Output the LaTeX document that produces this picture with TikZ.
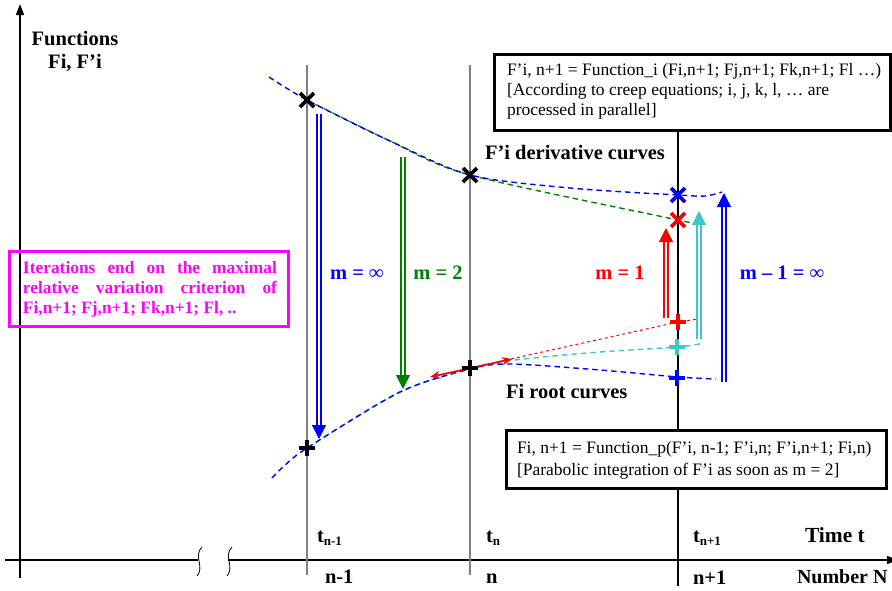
\documentclass[tikz,border=0pt]{standalone}
\usepackage{fontspec}
\setmainfont{Liberation Serif}
\usetikzlibrary{arrows.meta}
\definecolor{myblue}{RGB}{0,0,255}
\definecolor{mygreen}{RGB}{0,128,0}
\definecolor{myred}{RGB}{255,0,0}
\definecolor{mycyan}{RGB}{60,200,200}
\definecolor{mymag}{RGB}{255,0,255}
\begin{document}
\begin{tikzpicture}[x=1pt,y=-1pt,
  every node/.style={inner sep=0pt, outer sep=0pt},
  gridline/.style={black!50, line width=1.1pt},
  axisline/.style={black, line width=1.6pt},
  curve/.style={dash pattern=on 5.5pt off 4pt, line width=1.4pt},
  finecurve/.style={dash pattern=on 3pt off 3pt, line width=1pt},
  mk/.style={minimum size=14pt, shape=rectangle},
  mkline/.style={line width=3.6pt},
  dbl/.style={double, double distance=2.8pt, line width=1.3pt, -{Triangle[length=14pt,width=14pt]}},
  lbl/.style={font=\bfseries\fontsize{20.5}{24}\selectfont, anchor=base},
  boxtext/.style={font=\fontsize{17.5}{20}\selectfont, anchor=base west},
  magtext/.style={font=\bfseries\fontsize{17.4}{20}\selectfont, anchor=base west, mymag},
]
\useasboundingbox (0,0) rectangle (892,590);

% axes
\coordinate (yb) at (20,578);
\coordinate (yt) at (20,4);
\draw[axisline, -{Triangle[length=11pt,width=8pt]}] (yb) -- (yt);
\coordinate (xl) at (5,560);
\coordinate (xbreakA) at (198,560);
\coordinate (xbreakB) at (228,560);
\coordinate (xr) at (898,560);
\draw[axisline] (xl) -- (xbreakA);
\draw[axisline, -{Triangle[length=11pt,width=8pt]}] (xbreakB) -- (xr);
\draw[line width=0.8pt] (202,547) .. controls (193,556) and (205,567) .. (197,576);
\draw[line width=0.8pt] (232,547) .. controls (223,556) and (235,567) .. (227,576);

% vertical time lines
\draw[gridline] (307,65) -- (307,575);
\draw[gridline] (470,65) -- (470,575);
\draw[black, line width=1.1pt] (678,110) -- (678,586);

% derivative curves
\draw[curve, mygreen] plot[smooth] coordinates {(307,100) (390,141) (470,175) (678,220) (697,224)};
\draw[curve, myblue] plot[smooth] coordinates {(269,77) (307,100) (390,141) (470,175) (570,188) (678,195) (705,196) (722,192)};

% root curves
\draw[curve, mycyan] plot[smooth] coordinates {(307,448) (400,392) (470,369) (515,360) (600,352) (678,347) (704,343)};
\draw[finecurve, myred] (470,368) -- (678,322) -- (698,319);
\draw[curve, myblue] plot[smooth] coordinates {(272,478) (283,467) (307,448) (400,392) (470,369) (510,364) (600,370) (678,377) (716,379)};

% tangent arrow
\coordinate (ta) at (430,377);
\coordinate (tb) at (512,359);
\draw[myred, line width=1.7pt, {Stealth[length=10pt,width=8pt]}-{Stealth[length=10pt,width=8pt]}] (ta) -- (tb);

% markers (x = cross, p = plus)
\node[mk] (x1) at (307,100) {};
\node[mk] (x2) at (470,175) {};
\node[mk] (x3) at (678,195) {};
\node[mk] (x4) at (678,220) {};
\node[mk, minimum size=16pt] (p1) at (307,448) {};
\node[mk, minimum size=16pt] (p2) at (470,368) {};
\node[mk, minimum size=16pt] (p3) at (678,322) {};
\node[mk, minimum size=16pt] (p4) at (677,347) {};
\node[mk, minimum size=16pt] (p5) at (677,378) {};
\draw[mkline] (x1.north west) -- (x1.south east) (x1.north east) -- (x1.south west);
\draw[mkline] (x2.north west) -- (x2.south east) (x2.north east) -- (x2.south west);
\draw[mkline, myblue] (x3.north west) -- (x3.south east) (x3.north east) -- (x3.south west);
\draw[mkline, myred] (x4.north west) -- (x4.south east) (x4.north east) -- (x4.south west);
\draw[mkline] (p1.north) -- (p1.south) (p1.west) -- (p1.east);
\draw[mkline] (p2.north) -- (p2.south) (p2.west) -- (p2.east);
\draw[mkline, myred] (p3.north) -- (p3.south) (p3.west) -- (p3.east);
\draw[mkline, mycyan] (p4.north) -- (p4.south) (p4.west) -- (p4.east);
\draw[mkline, myblue] (p5.north) -- (p5.south) (p5.west) -- (p5.east);

% double arrows
\coordinate (a1s) at (319,114); \coordinate (a1e) at (319,439);
\coordinate (a2s) at (403,157); \coordinate (a2e) at (403,389);
\coordinate (a3s) at (666,318); \coordinate (a3e) at (666,228);
\coordinate (a4s) at (699,339); \coordinate (a4e) at (699,211);
\coordinate (a5s) at (724,382); \coordinate (a5e) at (724,193);
\draw[dbl, myblue] (a1s) -- (a1e);
\draw[dbl, mygreen] (a2s) -- (a2e);
\draw[dbl, myred] (a3s) -- (a3e);
\draw[dbl, mycyan] (a4s) -- (a4e);
\draw[dbl, myblue] (a5s) -- (a5e);

% m labels
\node[lbl, myblue] (minf) at (357,279) {m = ∞};
\node[lbl, mygreen] (m2) at (438,279) {m = 2};
\node[lbl, myred] (m1) at (620,279) {m = 1};
\node[lbl, myblue] (mm1) at (782,279) {m – 1 = ∞};

% curve labels
\node[lbl, anchor=base west] (dlab) at (485,159) {F’i derivative curves};
\node[lbl, anchor=base west] (rlab) at (506,398) {Fi root curves};
\node[lbl] (fun1) at (75,45) {Functions};
\node[lbl] (fun2) at (75,68) {Fi, F’i};

% top box
\node[draw, line width=3pt, fill=white, minimum width=396pt, minimum height=76pt, anchor=north west] (topbox) at (494.5,54.5) {};
\node[boxtext] (tb1) at (507,75) {F’i, n+1 = Function\_i (Fi,n+1; Fj,n+1; Fk,n+1; Fl …)};
\node[boxtext] (tb2) at (507,95) {[According to creep equations; i, j, k, l, … are};
\node[boxtext] (tb3) at (507,115) {processed in parallel]};

% bottom box
\node[draw, line width=3pt, fill=white, minimum width=380pt, minimum height=58pt, anchor=north west] (botbox) at (506.5,430) {};
\node[boxtext] (bb1) at (517,453) {Fi, n+1 = Function\_p(F’i, n-1; F’i,n; F’i,n+1; Fi,n)};
\node[boxtext] (bb2) at (517,475) {[Parabolic integration of F’i as soon as m = 2]};

% magenta box
\node[draw=mymag, line width=3pt, minimum width=279pt, minimum height=75pt, anchor=north west] (magbox) at (9.5,251.5) {};
\node[magtext] (mg1) at (23,273) {\makebox[254pt][s]{Iterations end on the maximal}};
\node[magtext] (mg2) at (23,293) {\makebox[254pt][s]{relative variation criterion of}};
\node[magtext] (mg3) at (23,313) {Fi,n+1; Fj,n+1; Fk,n+1; Fl, ..};

% time labels
\node[lbl, anchor=base west] (t1) at (317,542) {t\raisebox{-3pt}{\fontsize{13}{13}\selectfont n-1}};
\node[lbl, anchor=base west] (t2) at (486,542) {t\raisebox{-3pt}{\fontsize{13}{13}\selectfont n}};
\node[lbl, anchor=base west] (t3) at (693,542) {t\raisebox{-3pt}{\fontsize{13}{13}\selectfont n+1}};
\node[lbl, anchor=base west, font=\bfseries\fontsize{21.5}{24}\selectfont] (tt) at (805,542) {Time t};

% number labels
\node[lbl, anchor=base west] (n1) at (325,583) {n-1};
\node[lbl, anchor=base west] (n2) at (486,583) {n};
\node[lbl, anchor=base west] (n3) at (693,584) {n+1};
\node[lbl, anchor=base west, font=\bfseries\fontsize{20}{24}\selectfont] (nn) at (797,583) {Number N};
\end{tikzpicture}
\end{document}
